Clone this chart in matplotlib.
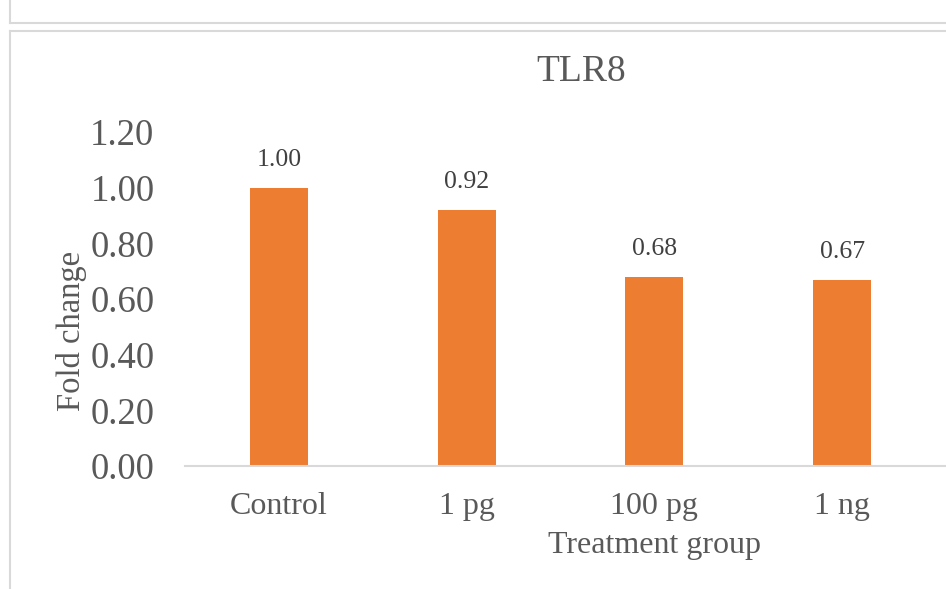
import matplotlib.pyplot as plt
from matplotlib.lines import Line2D

# Data
groups = ['Control', '1 pg', '100 pg', '1 ng']
fold_change = [1.00, 0.92, 0.68, 0.67]
y_ticks = [0.0, 0.2, 0.4, 0.6, 0.8, 1.0, 1.2]

W, H = 946, 589
fig = plt.figure(figsize=(W / 100, H / 100), dpi=100)
plt.rcParams['font.family'] = ['Liberation Serif', 'DejaVu Serif']

text_gray = '#595959'
line_gray = '#d9d9d9'
bar_color = '#ED7D31'

# axes placed in pixel terms
left, right, bottom, top = 185, 946, 466, 132
ax = fig.add_axes([left / W, 1 - bottom / H, (right - left) / W, (bottom - top) / H])

x = list(range(len(groups)))
ax.bar(x, fold_change, width=0.31, color=bar_color, zorder=2)

for xi, v in zip(x, fold_change):
    ax.annotate(f'{v:.2f}', (xi, v), xytext=(0, 12), textcoords='offset points',
                ha='center', va='bottom', fontsize=18.5, color='#404040')

ax.set_xlim(-0.5, 3 + (946 - 842) / 188)
ax.set_ylim(0, 1.2)
ax.set_yticks(y_ticks)
ax.set_yticklabels([f'{t:.2f}' for t in y_ticks], fontsize=26.5, color=text_gray)
ax.set_xticks(x)
ax.set_xticklabels(groups, fontsize=23, color=text_gray)
ax.tick_params(axis='both', length=0)
ax.tick_params(axis='y', pad=22)
ax.tick_params(axis='x', pad=19)

for s in ['top', 'right', 'left']:
    ax.spines[s].set_visible(False)
ax.spines['bottom'].set_color(line_gray)
ax.spines['bottom'].set_linewidth(1.5)

# titles placed in figure pixels
fig.text(581 / W, 1 - 72 / H, 'TLR8', ha='center', va='center', fontsize=27, color=text_gray)
fig.text(71 / W, 1 - 331 / H, 'Fold change', ha='center', va='center', rotation=90,
         fontsize=23.5, color=text_gray)
fig.text(655 / W, 1 - 546 / H, 'Treatment group', ha='center', va='center',
         fontsize=23, color=text_gray)

# chart frame borders
def fline(xs, ys):
    fig.add_artist(Line2D([a / W for a in xs], [1 - b / H for b in ys],
                          color=line_gray, linewidth=1.5, transform=fig.transFigure))

fline([10, 10], [0, 23])
fline([10, 946], [23, 23])
fline([10, 946], [30.5, 30.5])
fline([10, 10], [30.5, 589])

fig.savefig('out.png', dpi=100)
